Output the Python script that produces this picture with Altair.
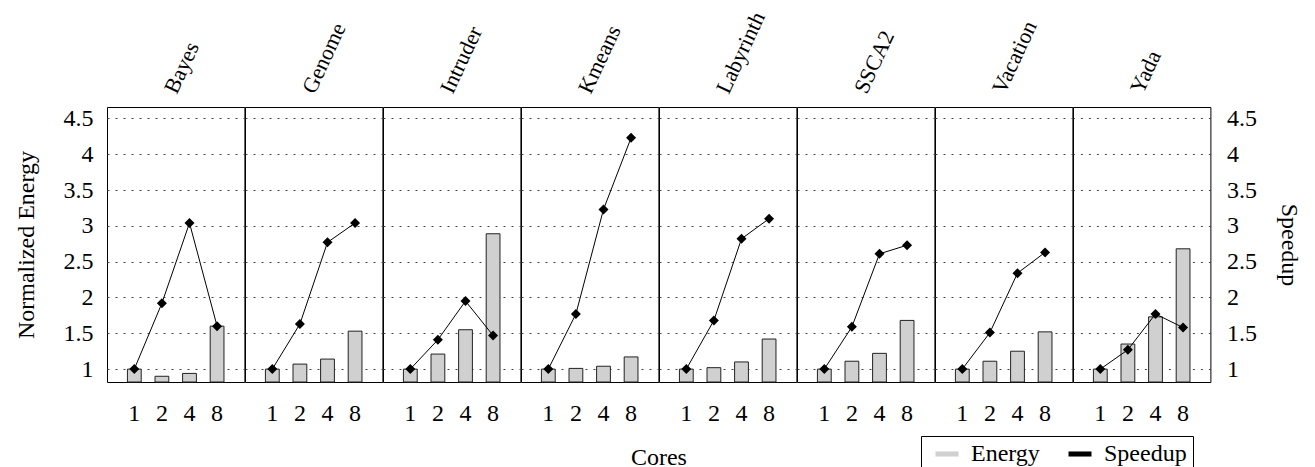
import altair as alt
import pandas as pd

benchmarks = ["Bayes", "Genome", "Intruder", "Kmeans", "Labyrinth", "SSCA2", "Vacation", "Yada"]
cores = ["1", "2", "4", "8"]
energy_values = [
    [1.00, 0.90, 0.94, 1.60],
    [1.00, 1.07, 1.14, 1.53],
    [1.00, 1.21, 1.55, 2.89],
    [1.00, 1.01, 1.04, 1.17],
    [1.00, 1.02, 1.10, 1.42],
    [1.00, 1.11, 1.22, 1.68],
    [1.00, 1.11, 1.25, 1.52],
    [1.00, 1.35, 1.73, 2.68],
]
speedup_values = [
    [1.00, 1.92, 3.04, 1.60],
    [1.00, 1.63, 2.77, 3.04],
    [1.00, 1.41, 1.95, 1.47],
    [1.00, 1.77, 3.23, 4.23],
    [1.00, 1.68, 2.82, 3.10],
    [1.00, 1.59, 2.61, 2.73],
    [1.00, 1.51, 2.34, 2.63],
    [1.00, 1.27, 1.77, 1.58],
]
y_ticks = [1, 1.5, 2, 2.5, 3, 3.5, 4, 4.5]
y_domain = [0.82, 4.66]
series_names = ["Energy", "Speedup"]
series_colors = ["#d0d0d0", "#000000"]

rows = []
for b, ev, sv in zip(benchmarks, energy_values, speedup_values):
    for c, e, s in zip(cores, ev, sv):
        rows.append({"bench": b, "cores": c, "energy": e, "speedup": s, "series": "Energy"})
df = pd.DataFrame(rows)

W, H = 137.4, 275
FONT = "Times New Roman"
FS = 24

yscale = alt.Scale(domain=y_domain, nice=False, zero=False)
xscale = alt.Scale(paddingInner=0.5, paddingOuter=0.74)

legend = alt.Legend(
    orient="none", legendX=814, legendY=329, direction="horizontal", title=None,
    symbolType="M-1,-0.22L1,-0.22L1,0.22L-1,0.22Z", symbolSize=529,
    symbolStrokeWidth=0, symbolOffset=8, labelFont=FONT, labelFontSize=FS,
    labelColor="black", strokeColor="black", padding=6, columnPadding=20,
    labelOffset=12,
)

panels = []
n = len(benchmarks)
for i, name in enumerate(benchmarks):
    d = df[df.bench == name]
    if i == 0:
        yaxis = alt.Axis(orient="left", title="Normalized Energy", values=y_ticks,
                         labelExpr="'' + datum.value", ticks=False, domain=False,
                         labelPadding=14, titlePadding=25, grid=True)
    elif i == n - 1:
        yaxis = alt.Axis(orient="right", title="Speedup", values=y_ticks,
                         labelExpr="'' + datum.value", ticks=False, domain=False,
                         labelPadding=16, titlePadding=20, grid=True)
    else:
        yaxis = alt.Axis(values=y_ticks, labels=False, ticks=False, domain=False,
                         title=None, grid=True)
    if i == 3:
        xaxis = alt.Axis(labelAngle=0, ticks=False, domain=False, labelPadding=19,
                         title="Cores", titleX=W, titlePadding=20)
    else:
        xaxis = alt.Axis(labelAngle=0, ticks=False, domain=False, labelPadding=19,
                         title=None)
    x = alt.X("cores:O", sort=cores, scale=xscale, axis=xaxis)
    bars = alt.Chart(d).mark_bar(stroke="#222222", strokeWidth=1).encode(
        x=x,
        y=alt.Y("energy:Q", scale=yscale, axis=yaxis),
        y2=alt.Y2(datum=y_domain[0]),
        fill=alt.Fill("series:N", scale=alt.Scale(domain=series_names, range=series_colors),
                      legend=legend),
    )
    line = alt.Chart(d).mark_line(color="black", strokeWidth=1).encode(
        x=x, y=alt.Y("speedup:Q", scale=yscale, axis=yaxis)
    )
    pts = alt.Chart(d).mark_point(shape="diamond", filled=True, color="black",
                                  size=100, opacity=1).encode(
        x=x, y=alt.Y("speedup:Q", scale=yscale, axis=yaxis)
    )
    txt = alt.Chart(pd.DataFrame({"name": [name]})).mark_text(
        angle=295, align="left", baseline="alphabetic", font=FONT, fontSize=22,
        color="black"
    ).encode(text="name:N", x=alt.value(W / 2 + 1), y=alt.value(-12))
    panels.append(alt.layer(bars, line, pts, txt).properties(width=W, height=H))

chart = alt.hconcat(*panels, spacing=0, bounds="flush").properties(
    background="white", padding={"left": 5, "right": 5, "top": 0, "bottom": 0}
).configure_view(
    stroke="black", strokeWidth=1
).configure_axis(
    labelFont=FONT, titleFont=FONT, labelFontSize=FS, titleFontSize=FS,
    titleFontWeight="normal", labelColor="black", titleColor="black",
    gridColor="#444444", gridDash=[2, 6], gridWidth=1
)

chart.save("out.html", embed_options={"renderer": "svg", "actions": False})
